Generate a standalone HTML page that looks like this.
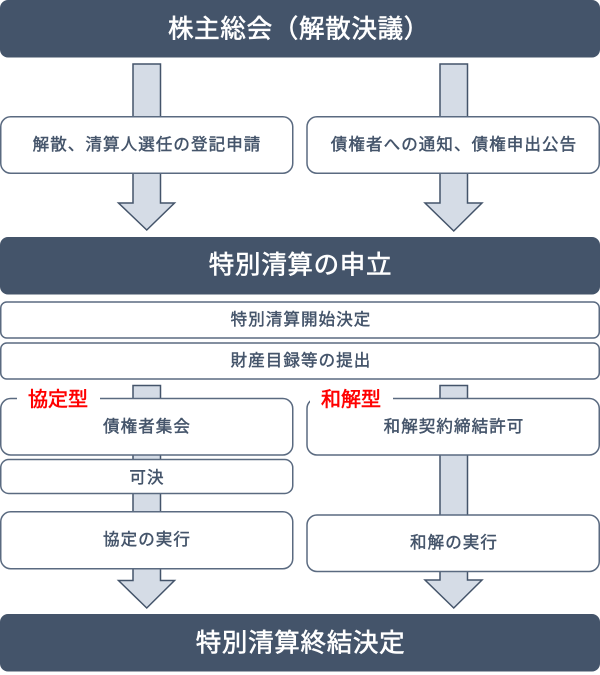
<!DOCTYPE html>
<html lang="ja">
<head>
<meta charset="utf-8">
<title>特別清算の流れ</title>
<style>
html,body{margin:0;padding:0;background:#fff;width:600px;height:675px;overflow:hidden}
svg{display:block}
text{font-family:"Liberation Sans","Noto Sans CJK JP",sans-serif;text-anchor:middle}
.t{font-size:25.5px;letter-spacing:.7px;fill:#fff;stroke:#fff;stroke-width:.6px}
.s{font-size:16.5px;letter-spacing:1.1px;fill:#44546a;stroke:#44546a;stroke-width:.45px}
.r{font-size:20px;letter-spacing:0;fill:#f00;stroke:#f00;stroke-width:.6px}
.b{fill:#fff;stroke:#5a6a80;stroke-width:1.5}
.a{fill:#d5dce6;stroke:#44546a;stroke-width:1.5}
</style>
</head>
<body>
<svg width="600" height="675" viewBox="0 0 600 675" xmlns="http://www.w3.org/2000/svg">
<polygon class="a" points="133,64 160.5,64 160.5,203 174.5,203 146.75,230 118.5,203 133,203"/>
<polygon class="a" points="440,64 467.5,64 467.5,203 482,203 453.75,231 425,203 440,203"/>
<polygon class="a" points="133,385.5 160.5,385.5 160.5,580.5 174.5,580.5 146.75,608 118.5,580.5 133,580.5"/>
<polygon class="a" points="440,385.5 467.5,385.5 467.5,580 482,580 453.75,608 425,580 440,580"/>

<rect x="0" y="0" width="600" height="57.5" rx="8" fill="#44546a"/>
<rect x="0" y="237" width="600" height="57.5" rx="8" fill="#44546a"/>
<rect x="0" y="614" width="600" height="57.5" rx="8" fill="#44546a"/>
<text class="t" x="299" y="37.5">株主総会（解散決議）</text>
<text class="t" x="300.5" y="273.5">特別清算の申立</text>
<text class="t" x="300.5" y="651.5">特別清算終結決定</text>

<rect class="b" x="0.75" y="116.75" width="292" height="56.5" rx="10"/>
<rect class="b" x="307" y="116.75" width="292.25" height="56.5" rx="10"/>
<text class="s" x="147" y="150">解散、清算人選任の登記申請</text>
<text class="s" x="454" y="150">債権者への通知、債権申出公告</text>

<rect class="b" x="0.75" y="302" width="598.5" height="36" rx="6"/>
<rect class="b" x="0.75" y="343" width="598.5" height="36" rx="6"/>
<text class="s" x="301" y="325">特別清算開始決定</text>
<text class="s" x="301" y="366">財産目録等の提出</text>

<rect class="b" x="0.75" y="398.5" width="292" height="56.5" rx="10"/>
<rect class="b" x="0.75" y="459.5" width="292" height="34" rx="8"/>
<rect class="b" x="0.75" y="511.75" width="292" height="57" rx="10"/>
<rect class="b" x="307" y="398.5" width="292.25" height="56.5" rx="10"/>
<rect class="b" x="307" y="515" width="292.25" height="56.5" rx="10"/>
<text class="s" x="147" y="432">債権者集会</text>
<text class="s" x="147" y="483">可決</text>
<text class="s" x="147" y="545">協定の実行</text>
<text class="s" x="454" y="432">和解契約締結許可</text>
<text class="s" x="454" y="548">和解の実行</text>

<rect x="17" y="390" width="83" height="18" fill="#fff"/>
<rect x="310" y="390" width="83" height="18" fill="#fff"/>
<text class="r" x="58" y="406">協定型</text>
<text class="r" x="351" y="406">和解型</text>
</svg>
</body>
</html>
